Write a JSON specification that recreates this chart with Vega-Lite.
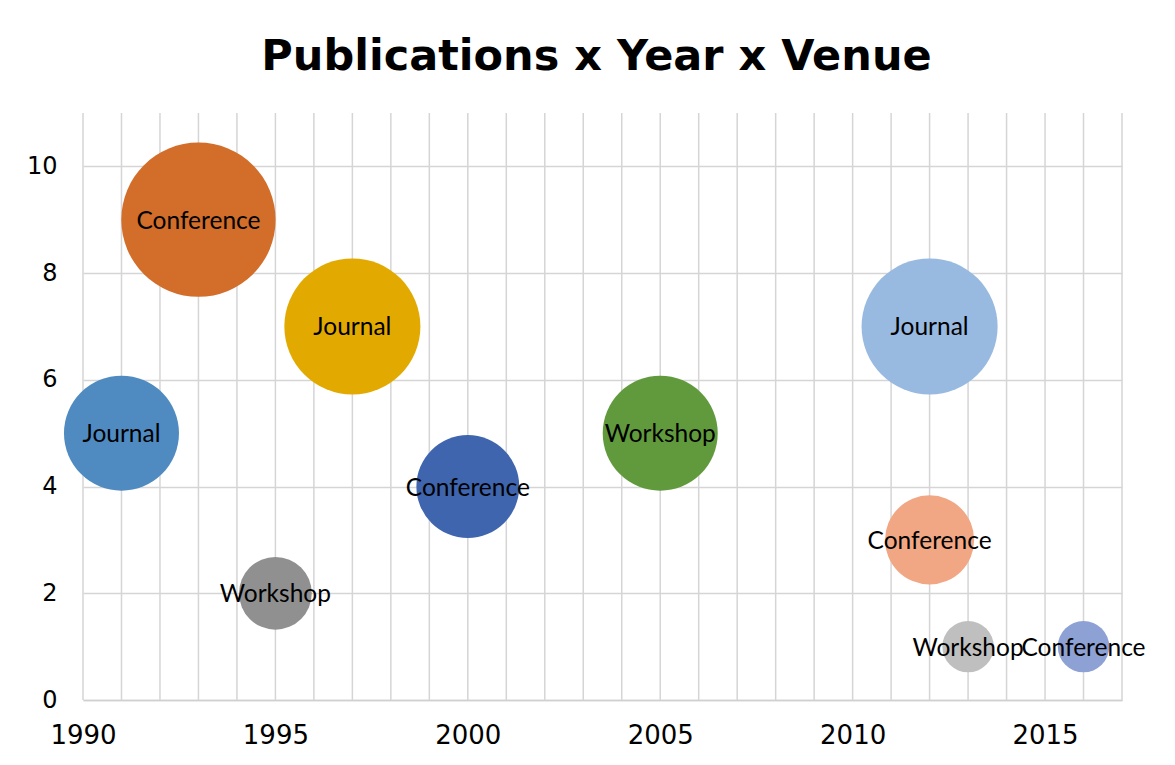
{
  "$schema": "https://vega.github.io/schema/vega-lite/v6.json",
  "width": 1039,
  "height": 587,
  "autosize": {"type": "none"},
  "padding": {"left": 83, "top": 113, "right": 53, "bottom": 65},
  "background": "white",
  "title": {
    "text": "Publications x Year x Venue",
    "font": "DejaVu Sans",
    "fontSize": 43,
    "fontWeight": "bold",
    "color": "#000000",
    "anchor": "middle",
    "offset": 33,
    "dx": -6
  },
  "data": {
    "values": [
      {"id": "a", "year": 1991, "publications": 5, "venue": "Journal"},
      {"id": "b", "year": 1993, "publications": 9, "venue": "Conference"},
      {"id": "c", "year": 1995, "publications": 2, "venue": "Workshop"},
      {"id": "d", "year": 1997, "publications": 7, "venue": "Journal"},
      {"id": "e", "year": 2000, "publications": 4, "venue": "Conference"},
      {"id": "f", "year": 2005, "publications": 5, "venue": "Workshop"},
      {"id": "g", "year": 2012, "publications": 7, "venue": "Journal"},
      {"id": "h", "year": 2012, "publications": 3, "venue": "Conference"},
      {"id": "i", "year": 2013, "publications": 1, "venue": "Workshop"},
      {"id": "j", "year": 2016, "publications": 1, "venue": "Conference"}
    ]
  },
  "encoding": {
    "x": {
      "field": "year",
      "type": "quantitative",
      "scale": {"domain": [1990, 2017], "nice": false, "zero": false},
      "axis": {
        "title": null,
        "values": [1990, 1995, 2000, 2005, 2010, 2015],
        "format": "d",
        "labelFont": "DejaVu Sans",
        "labelFontSize": 26,
        "labelColor": "#000000",
        "labelPadding": 22,
        "labelFlush": false,
        "labelOverlap": false,
        "ticks": false,
        "grid": false,
        "domain": true,
        "domainColor": "#d0d0d0",
        "domainWidth": 1.5
      }
    },
    "y": {
      "field": "publications",
      "type": "quantitative",
      "scale": {"domain": [0, 11], "nice": false},
      "axis": {
        "title": null,
        "values": [0, 2, 4, 6, 8, 10],
        "labelFont": "DejaVu Sans",
        "labelFontSize": 24,
        "labelColor": "#000000",
        "labelPadding": 26,
        "labelFlush": false,
        "labelOverlap": false,
        "ticks": false,
        "domain": false,
        "gridColor": "#d5d5d5",
        "gridWidth": 1.5
      }
    }
  },
  "layer": [
    {
      "mark": {"type": "rule", "color": "#d5d5d5", "strokeWidth": 1.5},
      "data": {
        "values": [
          {"yr": 1990}, {"yr": 1991}, {"yr": 1992}, {"yr": 1993}, {"yr": 1994},
          {"yr": 1995}, {"yr": 1996}, {"yr": 1997}, {"yr": 1998}, {"yr": 1999},
          {"yr": 2000}, {"yr": 2001}, {"yr": 2002}, {"yr": 2003}, {"yr": 2004},
          {"yr": 2005}, {"yr": 2006}, {"yr": 2007}, {"yr": 2008}, {"yr": 2009},
          {"yr": 2010}, {"yr": 2011}, {"yr": 2012}, {"yr": 2013}, {"yr": 2014},
          {"yr": 2015}, {"yr": 2016}, {"yr": 2017}
        ]
      },
      "encoding": {
        "x": {"field": "yr", "type": "quantitative"},
        "y": null
      }
    },
    {
      "mark": {"type": "circle", "opacity": 1, "stroke": null},
      "encoding": {
        "size": {
          "field": "publications",
          "type": "quantitative",
          "scale": {"type": "linear", "domain": [0, 9], "range": [0, 23800]},
          "legend": null
        },
        "color": {
          "field": "id",
          "type": "nominal",
          "scale": {
            "domain": ["a", "b", "c", "d", "e", "f", "g", "h", "i", "j"],
            "range": ["#4f8bc0", "#d26d2a", "#909090", "#e2aa00", "#3e65ae", "#609a3c", "#98b9e0", "#f1a784", "#bfbfbf", "#8ea1d4"]
          },
          "legend": null
        }
      }
    },
    {
      "mark": {"type": "text", "font": "Lato", "fontSize": 24.5, "color": "#000000", "align": "center", "baseline": "middle", "dy": 2},
      "encoding": {
        "text": {"field": "venue", "type": "nominal"}
      }
    }
  ],
  "config": {
    "view": {"stroke": null}
  }
}
